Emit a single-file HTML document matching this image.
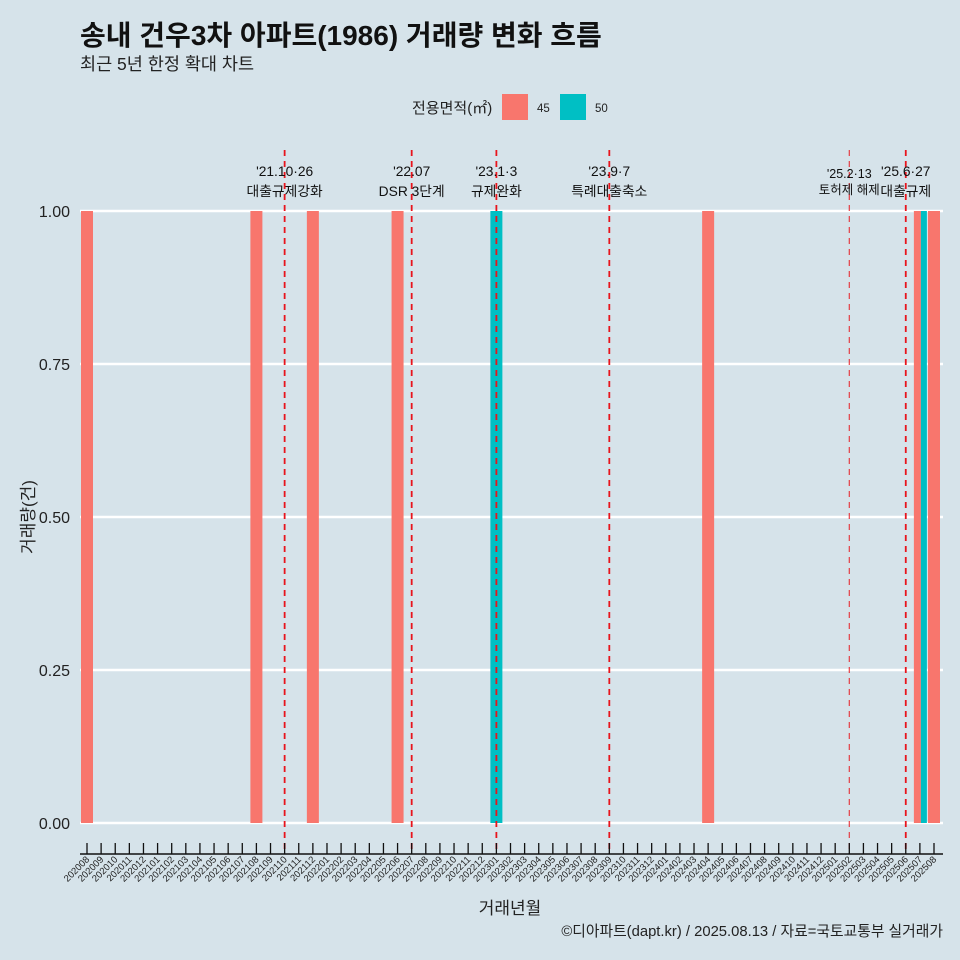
<!DOCTYPE html>
<html><head><meta charset="utf-8"><style>
body{margin:0;background:#d6e3ea;}
svg{display:block;font-family:"Liberation Sans","Noto Sans CJK KR",sans-serif;}
</style></head><body>
<svg id="c" width="960" height="960" viewBox="0 0 960 960">
<rect width="960" height="960" fill="#d6e3ea"/>
<text x="80" y="45" font-size="28" font-weight="bold" fill="#111">송내 건우3차 아파트(1986) 거래량 변화 흐름</text>
<text x="80" y="70" font-size="17.5" fill="#222">최근 5년 한정 확대 차트</text>
<g>
<text x="412" y="113" font-size="15" fill="#222">전용면적(㎡)</text>
<rect x="502" y="94" width="26" height="26" fill="#f8766d"/>
<text x="537" y="112" font-size="11.5" fill="#222">45</text>
<rect x="560" y="94" width="26" height="26" fill="#00bfc4"/>
<text x="595" y="112" font-size="11.5" fill="#222">50</text>
</g>
<g id="grid"></g><g id="bars"></g><g id="vlines"></g><g id="axes"></g>
<text transform="translate(34,517) rotate(-90)" text-anchor="middle" font-size="17" fill="#222">거래량(건)</text>
<text x="510" y="914" text-anchor="middle" font-size="17" fill="#222">거래년월</text>
<text x="943" y="936" text-anchor="end" font-size="14.8" fill="#222">©디아파트(dapt.kr) / 2025.08.13 / 자료=국토교통부 실거래가</text>
</svg>
<script>
const months=[];for(let y=2020,m=8;y<2025||(y===2025&&m<=8);){months.push(''+y+String(m).padStart(2,'0'));m++;if(m>12){m=1;y++;}}
const yTicks=[0,0.25,0.5,0.75,1];
const yTickLabels=["0.00","0.25","0.50","0.75","1.00"];
const barMonths45=["202008","202108","202112","202206","202404","202507","202508"];
const barValues45=[1,1,1,1,1,1,1];
const barMonths50=["202301","202507"];
const barValues50=[1,1];
const eventMonths=["202110","202207","202301","202309","202502","202506"];
const eventDates=["'21.10·26","'22.07","'23.1·3","'23.9·7","'25.2·13","'25.6·27"];
const eventNames=["대출규제강화","DSR 3단계","규제완화","특례대출축소","토허제 해제","대출규제"];
const NS="http://www.w3.org/2000/svg";
const x0=87,dx=(934-87)/60,yb=823,yt=211,bw=12;
const X=m=>x0+months.indexOf(m)*dx;
const Y=v=>yb-(yb-yt)*v;
function mk(t,a,p){const e=document.createElementNS(NS,t);for(const k in a)e.setAttribute(k,a[k]);document.getElementById(p).appendChild(e);return e;}
yTicks.forEach((v,i)=>{
 const l=mk('line',{x1:80,x2:943,y1:Y(v),y2:Y(v),stroke:'#fff','stroke-width':2.5},'grid');
 
 
 const t=mk('text',{x:70,y:Y(v)+6,'text-anchor':'end','font-size':16,fill:'#222'},'axes');t.textContent=yTickLabels[i];
 
 
});
function both(m){return barMonths45.includes(m)&&barMonths50.includes(m);}
barMonths45.forEach((m,i)=>{const d=both(m);const w=d?bw/2+1:bw;const x=X(m)-bw/2;
 const r=mk('rect',{x:x,y:Y(barValues45[i]),width:w,height:Y(0)-Y(barValues45[i]),fill:'#f8766d'},'bars');
 
 });
barMonths50.forEach((m,i)=>{const d=both(m);const w=d?bw/2:bw;const x=d?X(m)+1:X(m)-bw/2;
 const r=mk('rect',{x:x,y:Y(barValues50[i]),width:w,height:Y(0)-Y(barValues50[i]),fill:'#00bfc4'},'bars');
 
 });
eventMonths.forEach((m,i)=>{const x=X(m);const small=m==='202502';
 const l=mk('line',{x1:x,x2:x,y1:150,y2:854,stroke:'#e8141c','stroke-width':small?1.2:1.8,'stroke-dasharray':'6 5',opacity:small?0.8:1},'vlines');
 
 
 const t1=mk('text',{x:x,y:small?178:176,'text-anchor':'middle','font-size':small?12.5:13.8,fill:'#111'},'vlines');t1.textContent=eventDates[i];
 
 
 const t2=mk('text',{x:x,y:small?194:196,'text-anchor':'middle','font-size':small?12.5:13.8,fill:'#111'},'vlines');t2.textContent=eventNames[i];
 
 
});
const ax=mk('line',{x1:80,x2:943,y1:854,y2:854,stroke:'#111','stroke-width':1.5},'axes');


months.forEach(m=>{const x=X(m);
 const tk=mk('line',{x1:x,x2:x,y1:843,y2:854,stroke:'#111','stroke-width':1.3},'axes');
 
 
 const t=mk('text',{x:x+3,y:860,'text-anchor':'end','font-size':9.5,fill:'#222',transform:`rotate(-45 ${x+3} 860)`},'axes');t.textContent=m;
 
 
});
</script>
</body></html>
